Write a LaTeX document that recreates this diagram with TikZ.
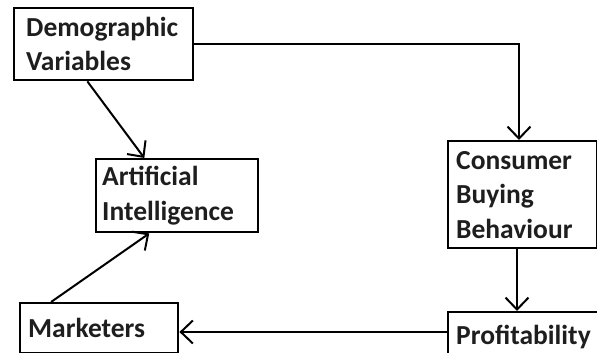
\documentclass[tikz,border=0pt]{standalone}
\usepackage{fontspec}
\setmainfont{Carlito}
\usetikzlibrary{
  positioning, arrows.meta, calc
}
\definecolor{inkgray}{HTML}{1E1E1E}
\tikzset{
  flowbox/.style={draw, line width=2.4pt, anchor=north west, align=left, text=inkgray,
    font=\fontsize{27.5}{34.5}\selectfont\bfseries, inner ysep=0pt},
  flowarrow/.style={line width=2pt, -{Straight Barb[length=12pt, width=23pt, line width=2pt]}}
}

\begin{document}
\begin{tikzpicture}[x=1pt, y=1pt]
  \useasboundingbox (0,0) rectangle (597,-353);
  \node[flowbox, minimum width=179pt, minimum height=72pt, text width=155pt, inner xsep=12pt] (demo) at (13,-7) {Demographic\\Variables};
  \node[flowbox, minimum width=162pt, minimum height=73pt, text width=150pt, inner xsep=6pt] (ai) at (95,-158) {Artificial\\Intelligence};
  \node[flowbox, minimum width=149pt, minimum height=107pt, text width=133pt, inner xsep=8pt] (cons) at (447,-140) {Consumer\\Buying\\Behaviour};
  \node[flowbox, minimum width=160pt, minimum height=50pt, text width=144pt, inner xsep=8pt] (prof) at (447,-311) {Profitability};
  \node[flowbox, minimum width=158pt, minimum height=50pt, text width=142pt, inner xsep=8pt] (mark) at (19,-302) {Marketers};

  \coordinate (pm) at ($(prof.north west)+(0,-21)$);
  \draw[flowarrow] (demo.east) -| ($(cons.north west)+(72,0)$);
  \draw[flowarrow] ($(demo.south west)!0.41!(demo.south east)$) -- ($(ai.north west)!0.3!(ai.north east)$);
  \draw[flowarrow] ($(mark.north west)!0.2!(mark.north east)$) -- ($(ai.south west)!0.33!(ai.south east)$);
  \draw[flowarrow] ($(cons.south west)+(70,0)$) -- ($(prof.north west)+(70,0)$);
  \draw[flowarrow] (pm) -- (pm -| mark.east);
\end{tikzpicture}
\end{document}
